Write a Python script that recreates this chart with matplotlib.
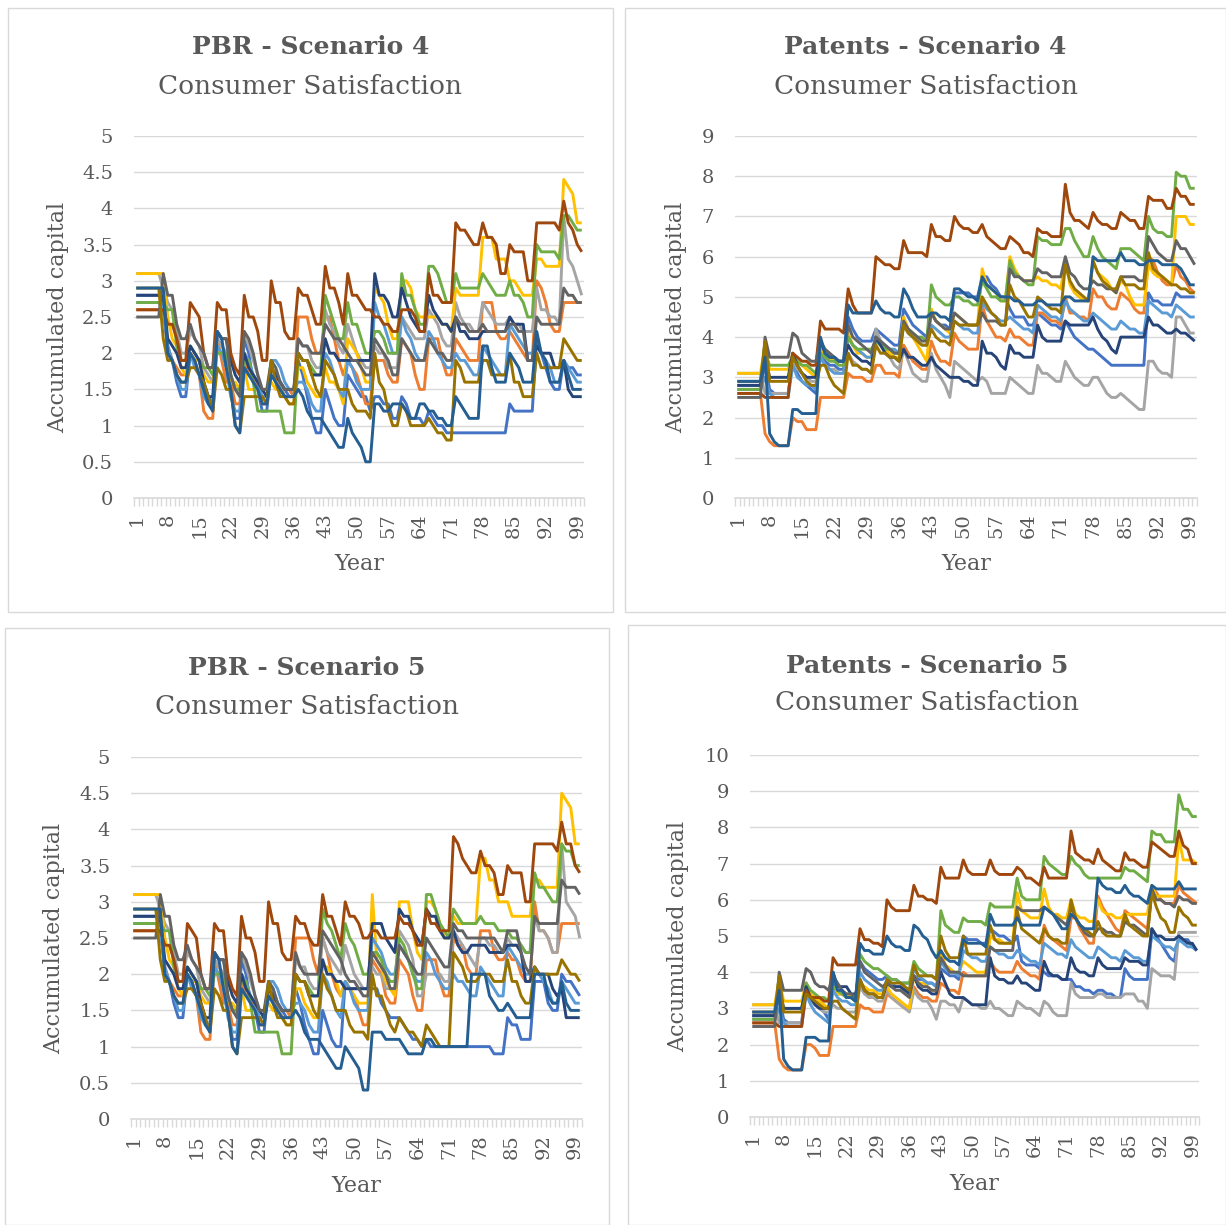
import numpy as np
import matplotlib
matplotlib.use("Agg")
import matplotlib.pyplot as plt
from matplotlib.patches import Rectangle

# Excel default line palette (series 1..11)
colors = ["#4472C4", "#ED7D31", "#A5A5A5", "#FFC000", "#5B9BD5", "#70AD47",
          "#264478", "#9E480E", "#636363", "#997300", "#255E91"]

years = list(range(1, 101))
year_labels = [str(y) if (y - 1) % 7 == 0 else "" for y in years]

# values per run, years 1..100 ("|" only groups the 6-year cycles for reading)
pbr4 = [
    "2.8 2.8 2.8 2.8 2.8 2.8 | 2.7 2.0 1.9 1.6 1.4 1.4 | 2.0 1.9 1.9 1.6 1.4 1.3 | 2.2 2.1 2.0 1.5 1.1 1.1 | 2.2 2.0 1.6 1.5 1.2 1.2 | 1.8 1.7 1.6 1.5 1.4 1.4 | 1.9 1.7 1.4 1.1 0.9 0.9 | 1.5 1.3 1.1 1.0 1.0 | 1.7 1.6 1.5 1.4 1.4 1.2 | 1.4 1.4 1.3 1.3 1.1 1.1 | 1.4 1.3 1.1 1.1 1.1 1.0 | 1.2 1.1 1.0 1.0 0.9 0.9 | 0.9 0.9 0.9 0.9 0.9 0.9 | 0.9 0.9 0.9 0.9 0.9 0.9 | 1.3 1.2 1.2 1.2 1.2 1.2 | 2.2 2.0 1.8 1.6 1.5 1.5 | 1.9 1.8 1.8 1.7 1.7",
    "2.6 2.6 2.6 2.6 2.6 2.6 | 2.6 2.1 1.9 1.8 1.7 1.7 | 2.0 1.9 1.7 1.2 1.1 1.1 | 2.2 1.9 1.6 1.6 1.3 1.3 | 1.9 1.7 1.7 1.5 1.3 1.3 | 1.8 1.7 1.5 1.5 1.5 1.4 | 2.5 2.5 2.5 2.2 2.0 2.0 | 2.5 2.5 2.2 1.9 1.7 | 1.9 1.8 1.7 1.5 1.3 1.3 | 1.9 1.9 1.9 1.7 1.6 1.6 | 2.2 2.1 2.0 1.7 1.5 1.5 | 2.2 2.2 2.2 1.9 1.7 1.7 | 2.2 2.1 2.0 1.9 1.9 1.9 | 2.7 2.7 2.7 2.3 2.2 2.2 | 2.3 2.2 2.1 2.0 1.9 1.9 | 3.0 2.9 2.7 2.4 2.3 2.3 | 2.7 2.7 2.7 2.7 2.7",
    "3.1 3.1 3.1 3.1 3.1 3.1 | 2.9 2.7 2.6 2.3 2.0 2.0 | 2.3 2.2 2.1 1.8 1.7 1.6 | 2.2 2.1 2.0 1.7 1.5 1.5 | 2.3 2.1 1.9 1.7 1.5 1.5 | 1.7 1.6 1.6 1.4 1.4 1.4 | 2.2 2.1 2.1 1.9 1.8 1.8 | 2.6 2.4 2.3 2.1 2.0 | 2.4 2.2 2.0 1.9 1.8 1.8 | 2.1 2.0 2.0 1.8 1.8 1.8 | 2.5 2.4 2.3 2.2 2.2 2.2 | 2.6 2.5 2.4 2.2 2.1 2.1 | 2.7 2.5 2.4 2.4 2.3 2.3 | 2.7 2.6 2.5 2.4 2.4 2.4 | 2.5 2.4 2.4 2.3 2.3 2.3 | 2.9 2.6 2.6 2.5 2.5 2.4 | 3.9 3.3 3.2 3.0 2.8",
    "3.1 3.1 3.1 3.1 3.1 3.1 | 3.1 2.5 2.2 2.1 1.8 1.7 | 2.0 1.9 1.9 1.7 1.6 1.6 | 2.1 2.0 1.8 1.6 1.6 1.5 | 1.8 1.5 1.5 1.5 1.5 1.5 | 1.6 1.5 1.5 1.4 1.3 1.3 | 1.8 1.8 1.6 1.5 1.4 1.4 | 1.8 1.6 1.6 1.5 1.3 | 2.2 2.1 2.0 1.8 1.6 1.6 | 2.9 2.8 2.7 2.4 2.2 2.2 | 3.0 3.0 2.9 2.6 2.5 2.5 | 2.5 2.5 2.5 2.4 2.4 2.3 | 2.9 2.8 2.8 2.8 2.8 2.8 | 3.6 3.6 3.6 3.3 3.3 3.3 | 3.0 3.0 2.9 2.8 2.8 2.8 | 3.3 3.3 3.2 3.2 3.2 3.2 | 4.4 4.3 4.2 3.8 3.8",
    "2.7 2.7 2.7 2.7 2.7 2.7 | 2.6 2.1 1.9 1.7 1.5 1.5 | 2.0 1.8 1.7 1.4 1.3 1.3 | 2.1 2.0 1.8 1.4 1.2 1.2 | 2.0 1.9 1.7 1.6 1.4 1.4 | 1.9 1.9 1.8 1.6 1.5 1.5 | 1.6 1.6 1.5 1.3 1.2 1.2 | 2.0 1.9 1.7 1.5 1.4 | 1.9 1.8 1.6 1.5 1.5 1.5 | 2.7 2.5 2.4 2.2 2.0 2.0 | 2.5 2.3 2.2 2.0 1.9 1.9 | 2.3 2.2 2.0 1.9 1.8 1.8 | 2.0 1.9 1.9 1.8 1.7 1.7 | 2.1 2.0 1.9 1.8 1.7 1.7 | 2.4 2.3 2.2 2.1 2.0 2.0 | 2.1 2.0 1.9 1.8 1.6 1.6 | 1.9 1.8 1.7 1.6 1.6",
    "2.7 2.7 2.7 2.7 2.7 2.7 | 2.7 2.6 2.6 2.1 1.9 1.9 | 2.1 2.0 1.9 1.8 1.8 1.7 | 2.0 2.0 2.0 1.7 1.5 1.5 | 1.9 1.9 1.6 1.2 1.2 1.2 | 1.2 1.2 1.2 0.9 0.9 0.9 | 2.0 1.9 1.9 1.8 1.7 1.7 | 2.8 2.6 2.4 2.2 2.2 | 2.7 2.4 2.4 2.2 2.0 2.0 | 2.3 2.3 2.2 2.0 2.0 2.0 | 3.1 2.8 2.8 2.6 2.4 2.4 | 3.2 3.2 3.1 2.9 2.7 2.7 | 3.1 2.9 2.9 2.9 2.9 2.9 | 3.1 3.0 2.9 2.8 2.8 2.8 | 3.0 2.8 2.8 2.7 2.5 2.5 | 3.5 3.4 3.4 3.4 3.4 3.3 | 3.9 3.9 3.8 3.7 3.7",
    "2.8 2.8 2.8 2.8 2.8 2.8 | 2.8 2.2 2.1 2.0 1.8 1.8 | 2.1 2.0 1.9 1.6 1.4 1.4 | 2.3 2.2 2.2 1.9 1.7 1.6 | 2.0 1.8 1.7 1.6 1.5 1.4 | 1.8 1.7 1.6 1.5 1.5 1.5 | 2.0 1.9 1.9 1.7 1.7 1.7 | 2.2 2.0 2.0 1.9 1.9 | 1.9 1.9 1.9 1.9 1.9 1.9 | 3.1 2.8 2.8 2.7 2.5 2.5 | 2.9 2.7 2.5 2.4 2.3 2.3 | 2.8 2.6 2.5 2.4 2.4 2.3 | 2.5 2.3 2.3 2.2 2.2 2.2 | 2.3 2.3 2.3 2.3 2.3 2.3 | 2.5 2.4 2.4 2.4 1.9 1.9 | 2.1 2.0 2.0 2.0 1.8 1.8 | 1.9 1.5 1.4 1.4 1.4",
    "2.6 2.6 2.6 2.6 2.6 2.6 | 2.6 2.4 2.4 2.2 1.9 1.9 | 2.7 2.6 2.5 2.0 1.8 1.8 | 2.7 2.6 2.6 2.0 1.8 1.7 | 2.8 2.5 2.5 2.3 1.9 1.9 | 3.0 2.7 2.7 2.3 2.2 2.2 | 2.9 2.8 2.8 2.6 2.4 2.4 | 3.2 2.9 2.9 2.7 2.4 | 3.1 2.8 2.8 2.7 2.6 2.6 | 2.5 2.5 2.4 2.4 2.3 2.3 | 2.6 2.6 2.6 2.5 2.3 2.3 | 3.1 2.8 2.8 2.7 2.7 2.7 | 3.8 3.7 3.7 3.6 3.5 3.5 | 3.8 3.6 3.6 3.5 3.1 3.1 | 3.5 3.4 3.4 3.4 3.0 3.0 | 3.8 3.8 3.8 3.8 3.8 3.7 | 4.1 3.8 3.7 3.5 3.4",
    "2.5 2.5 2.5 2.5 2.5 2.5 | 3.1 2.8 2.8 2.4 2.2 2.2 | 2.4 2.2 2.1 2.0 1.8 1.8 | 2.3 2.2 2.2 1.7 1.5 1.4 | 2.3 2.2 2.0 1.7 1.5 1.5 | 1.9 1.8 1.6 1.5 1.5 1.5 | 2.2 2.1 2.1 2.0 2.0 2.0 | 2.4 2.3 2.2 2.2 2.1 | 2.0 1.9 1.9 1.8 1.7 1.7 | 2.2 2.1 2.0 1.9 1.7 1.7 | 2.2 2.1 2.0 1.9 1.9 1.9 | 2.2 2.1 2.0 2.0 1.9 1.9 | 2.5 2.4 2.4 2.3 2.3 2.3 | 2.4 2.3 2.3 2.3 2.3 2.3 | 2.4 2.4 2.3 2.3 1.9 1.9 | 2.5 2.4 2.4 2.4 2.4 2.4 | 2.9 2.8 2.8 2.7 2.7",
    "2.9 2.9 2.9 2.9 2.9 2.9 | 2.2 1.9 1.9 1.7 1.6 1.6 | 1.8 1.8 1.7 1.6 1.4 1.2 | 1.8 1.7 1.5 1.5 1.0 0.9 | 1.4 1.4 1.4 1.4 1.4 1.3 | 1.9 1.6 1.4 1.4 1.3 1.3 | 2.0 1.9 1.9 1.7 1.5 1.4 | 1.9 1.8 1.7 1.5 1.5 | 1.5 1.3 1.2 1.2 1.2 1.1 | 2.0 1.6 1.5 1.2 1.0 1.0 | 1.3 1.2 1.0 1.0 1.0 1.0 | 1.1 1.0 0.9 0.9 0.8 0.8 | 1.9 1.8 1.6 1.6 1.6 1.6 | 1.9 1.9 1.7 1.7 1.7 1.7 | 2.0 1.6 1.6 1.4 1.4 1.4 | 2.0 1.8 1.8 1.8 1.8 1.8 | 2.2 2.1 2.0 1.9 1.9",
    "2.9 2.9 2.9 2.9 2.9 2.9 | 2.9 2.0 1.9 1.7 1.6 1.6 | 2.0 1.9 1.7 1.5 1.3 1.2 | 2.3 2.2 1.8 1.5 1.0 0.9 | 1.8 1.7 1.6 1.5 1.3 1.3 | 1.7 1.6 1.5 1.4 1.4 1.4 | 1.5 1.4 1.2 1.1 1.1 1.1 | 1.0 0.9 0.8 0.7 0.7 | 1.1 0.9 0.8 0.7 0.5 0.5 | 1.3 1.3 1.2 1.2 1.3 1.3 | 1.3 1.2 1.1 1.1 1.3 1.3 | 1.2 1.2 1.1 1.1 1.0 1.0 | 1.4 1.3 1.2 1.1 1.1 1.1 | 2.1 2.1 1.8 1.6 1.6 1.6 | 2.0 1.9 1.8 1.6 1.6 1.6 | 2.3 2.0 1.9 1.6 1.6 1.6 | 1.9 1.7 1.5 1.5 1.5",
]

patents4 = [
    "2.8 2.8 2.8 2.8 2.8 2.8 | 3.3 2.7 2.6 2.6 2.6 2.6 | 3.4 3.1 2.9 2.8 2.7 2.6 | 3.6 3.4 3.3 3.3 3.2 3.2 | 4.5 4.2 4.0 3.9 3.9 3.9 | 4.2 4.1 4.0 3.9 3.8 3.8 | 4.7 4.5 4.3 4.2 4.1 4.0 | 4.6 4.4 4.3 4.3 4.2 | 5.1 5.1 5.1 5.1 5.0 5.0 | 5.5 5.5 5.3 5.2 5.0 5.0 | 4.7 4.5 4.5 4.5 4.3 4.3 | 4.6 4.5 4.4 4.3 4.3 4.2 | 4.4 4.2 4.0 3.9 3.8 3.7 | 3.7 3.6 3.5 3.4 3.3 3.3 | 3.3 3.3 3.3 3.3 3.3 3.3 | 5.1 4.9 4.9 4.8 4.8 4.8 | 5.1 5.0 5.0 5.0 5.0",
    "2.6 2.6 2.6 2.6 2.6 2.6 | 1.6 1.4 1.3 1.3 1.3 1.3 | 2.0 1.9 1.9 1.7 1.7 1.7 | 2.5 2.5 2.5 2.5 2.5 2.5 | 3.1 3.0 3.0 3.0 2.9 2.9 | 3.3 3.3 3.1 3.1 3.1 3.0 | 3.8 3.6 3.4 3.3 3.2 3.2 | 3.9 3.6 3.4 3.4 3.3 | 4.1 3.9 3.8 3.7 3.7 3.7 | 4.8 4.4 4.2 4.0 4.0 3.9 | 4.2 4.0 4.0 3.9 3.8 3.8 | 4.6 4.6 4.5 4.4 4.4 4.3 | 5.0 4.6 4.6 4.5 4.5 4.4 | 5.2 5.0 5.0 4.8 4.7 4.7 | 5.1 5.0 4.9 4.7 4.6 4.6 | 6.0 5.9 5.6 5.4 5.3 5.3 | 5.8 5.5 5.4 5.2 5.1",
    "3.1 3.1 3.1 3.1 3.1 3.1 | 2.6 2.6 2.6 2.6 2.6 2.6 | 3.4 3.2 3.1 3.0 2.9 2.9 | 3.5 3.3 3.2 3.2 3.1 3.1 | 3.6 3.4 3.3 3.2 3.2 3.1 | 4.2 3.9 3.7 3.5 3.3 3.2 | 3.7 3.4 3.1 3.0 2.9 2.9 | 3.6 3.2 3.0 2.8 2.5 | 3.4 3.3 3.2 3.1 3.0 2.9 | 3.0 2.9 2.6 2.6 2.6 2.6 | 3.0 2.9 2.8 2.7 2.6 2.6 | 3.3 3.1 3.1 3.0 2.9 2.9 | 3.4 3.2 3.0 2.9 2.8 2.8 | 3.0 3.0 2.8 2.6 2.5 2.5 | 2.6 2.5 2.4 2.3 2.2 2.2 | 3.4 3.4 3.2 3.1 3.1 3.0 | 4.5 4.5 4.3 4.1 4.1",
    "3.1 3.1 3.1 3.1 3.1 3.1 | 3.8 3.2 3.2 3.2 3.2 3.2 | 3.6 3.4 3.3 3.2 3.1 3.0 | 3.7 3.5 3.5 3.4 3.4 3.4 | 4.1 3.8 3.6 3.6 3.5 3.5 | 4.0 3.8 3.7 3.6 3.5 3.5 | 4.5 4.2 4.0 3.8 3.6 3.4 | 4.7 4.4 4.3 4.2 4.1 | 4.6 4.5 4.4 4.3 4.3 4.3 | 5.7 5.3 5.2 5.1 4.9 4.9 | 6.0 5.7 5.5 5.4 5.4 5.4 | 5.5 5.4 5.4 5.3 5.3 5.2 | 5.9 5.3 5.1 5.0 4.9 4.9 | 5.9 5.6 5.5 5.4 5.2 5.1 | 5.4 5.3 5.0 4.8 4.8 4.8 | 5.8 5.6 5.5 5.5 5.4 5.3 | 7.0 7.0 7.0 6.8 6.8",
    "2.7 2.7 2.7 2.7 2.7 2.7 | 3.0 2.6 2.5 2.5 2.5 2.5 | 3.3 3.0 2.9 2.8 2.8 2.7 | 3.5 3.3 3.2 3.1 3.1 3.1 | 4.0 3.8 3.7 3.6 3.5 3.5 | 4.0 3.9 3.8 3.7 3.7 3.6 | 4.3 4.1 4.0 3.9 3.8 3.8 | 4.3 4.2 4.1 4.0 4.0 | 4.4 4.3 4.2 4.2 4.1 4.1 | 4.9 4.7 4.6 4.5 4.4 4.4 | 4.5 4.4 4.3 4.2 4.2 4.1 | 4.8 4.7 4.6 4.5 4.5 4.4 | 4.9 4.7 4.6 4.5 4.4 4.4 | 4.6 4.5 4.4 4.3 4.2 4.2 | 4.4 4.3 4.2 4.2 4.1 4.1 | 4.9 4.8 4.7 4.6 4.6 4.5 | 4.8 4.7 4.6 4.5 4.5",
    "2.7 2.7 2.7 2.7 2.7 2.7 | 3.6 3.3 3.3 3.3 3.3 3.3 | 3.5 3.4 3.3 3.3 3.2 3.1 | 3.6 3.5 3.4 3.4 3.3 3.3 | 4.0 3.8 3.7 3.7 3.7 3.7 | 3.9 3.8 3.7 3.7 3.6 3.6 | 4.3 4.2 4.1 4.0 4.0 3.9 | 5.3 5.0 4.9 4.8 4.8 | 5.0 5.0 4.9 4.9 4.8 4.8 | 5.4 5.2 5.0 5.0 4.9 4.9 | 5.9 5.6 5.5 5.4 5.3 5.3 | 6.5 6.4 6.4 6.3 6.3 6.3 | 6.7 6.7 6.4 6.2 6.0 6.0 | 6.5 6.2 6.0 5.9 5.8 5.7 | 6.2 6.2 6.2 6.1 6.0 5.9 | 7.0 6.7 6.6 6.6 6.5 6.5 | 8.1 8.0 8.0 7.7 7.7",
    "2.8 2.8 2.8 2.8 2.8 2.8 | 3.5 3.0 3.0 3.0 3.0 3.0 | 3.6 3.3 3.1 3.0 3.0 3.0 | 3.9 3.6 3.5 3.5 3.4 3.4 | 3.8 3.6 3.5 3.4 3.4 3.3 | 4.0 3.8 3.6 3.5 3.5 3.4 | 3.7 3.5 3.5 3.4 3.3 3.3 | 3.5 3.3 3.2 3.1 3.0 | 3.0 3.0 2.9 2.9 2.8 2.8 | 3.9 3.6 3.6 3.5 3.3 3.2 | 3.8 3.6 3.6 3.5 3.5 3.5 | 4.3 4.0 3.9 3.9 3.9 3.9 | 4.4 4.3 4.3 4.3 4.3 4.3 | 4.5 4.2 4.0 3.9 3.7 3.6 | 4.0 4.0 4.0 4.0 4.0 4.0 | 4.5 4.3 4.3 4.2 4.1 4.1 | 4.2 4.1 4.1 4.0 3.9",
    "2.6 2.6 2.6 2.6 2.6 2.6 | 2.5 2.5 2.5 2.5 2.5 2.5 | 3.6 3.5 3.4 3.4 3.3 3.3 | 4.4 4.2 4.2 4.2 4.2 4.1 | 5.2 4.8 4.6 4.6 4.6 4.6 | 6.0 5.9 5.8 5.8 5.7 5.7 | 6.4 6.1 6.1 6.1 6.1 6.0 | 6.8 6.5 6.5 6.4 6.4 | 7.0 6.8 6.7 6.7 6.6 6.6 | 6.8 6.5 6.4 6.3 6.2 6.2 | 6.5 6.4 6.3 6.1 6.1 6.0 | 6.7 6.6 6.6 6.5 6.5 6.5 | 7.8 7.1 6.9 6.9 6.8 6.7 | 7.1 6.9 6.8 6.8 6.7 6.7 | 7.1 7.0 6.9 6.9 6.7 6.7 | 7.5 7.4 7.4 7.4 7.2 7.2 | 7.7 7.5 7.5 7.3 7.3",
    "2.5 2.5 2.5 2.5 2.5 2.5 | 4.0 3.5 3.5 3.5 3.5 3.5 | 4.1 4.0 3.6 3.5 3.4 3.4 | 3.9 3.7 3.6 3.5 3.4 3.4 | 4.3 4.0 3.9 3.8 3.7 3.6 | 4.0 3.9 3.8 3.7 3.6 3.6 | 4.4 4.2 4.1 4.0 3.9 3.9 | 4.6 4.4 4.3 4.2 4.2 | 4.6 4.5 4.4 4.3 4.3 4.3 | 4.6 4.4 4.4 4.4 4.3 4.3 | 5.7 5.5 5.5 5.4 5.4 5.4 | 5.7 5.6 5.6 5.5 5.5 5.5 | 6.0 5.6 5.5 5.3 5.2 5.2 | 5.4 5.3 5.3 5.2 5.2 5.1 | 5.5 5.5 5.5 5.5 5.4 5.4 | 6.5 6.3 6.1 6.0 5.9 5.9 | 6.4 6.2 6.2 6.0 5.8",
    "2.9 2.9 2.9 2.9 2.9 2.9 | 3.9 2.9 2.9 2.9 2.9 2.9 | 3.5 3.3 3.1 2.9 2.8 2.8 | 3.3 3.3 3.0 2.8 2.7 2.6 | 3.6 3.3 3.3 3.2 3.2 3.1 | 3.8 3.6 3.6 3.5 3.5 3.4 | 4.3 4.1 4.0 3.9 3.8 3.8 | 4.2 4.0 3.9 3.9 3.8 | 4.4 4.3 4.3 4.3 4.3 4.3 | 5.0 4.8 4.6 4.5 4.3 4.3 | 5.3 5.0 4.9 4.7 4.5 4.5 | 5.0 4.9 4.8 4.7 4.7 4.6 | 5.8 5.4 5.2 5.1 5.0 4.9 | 5.9 5.6 5.4 5.3 5.2 5.2 | 5.5 5.3 5.3 5.3 5.2 5.2 | 6.1 5.7 5.6 5.5 5.4 5.3 | 5.3 5.2 5.2 5.1 5.1",
    "2.9 2.9 2.9 2.9 2.9 2.9 | 3.5 1.6 1.4 1.3 1.3 1.3 | 2.2 2.2 2.1 2.1 2.1 2.1 | 4.0 3.6 3.5 3.5 3.4 3.4 | 4.8 4.6 4.6 4.6 4.6 4.6 | 4.9 4.7 4.6 4.6 4.5 4.5 | 5.2 5.0 4.7 4.5 4.5 4.5 | 4.6 4.6 4.5 4.5 4.4 | 5.2 5.2 5.1 5.0 5.0 4.9 | 5.5 5.3 5.2 5.1 5.0 5.0 | 5.0 4.9 4.9 4.8 4.8 4.8 | 4.9 4.9 4.8 4.8 4.8 4.8 | 5.0 5.0 4.9 4.9 4.9 4.9 | 6.0 5.9 5.9 5.9 5.9 5.9 | 6.1 5.9 5.9 5.9 5.8 5.8 | 5.9 5.9 5.9 5.8 5.8 5.8 | 5.8 5.7 5.5 5.3 5.3",
]

pbr5 = [
    "2.8 2.8 2.8 2.8 2.8 2.8 | 2.7 2.0 1.9 1.6 1.4 1.4 | 2.0 1.9 1.9 1.6 1.3 1.3 | 2.2 2.1 2.0 1.5 1.1 1.1 | 2.2 2.0 1.6 1.5 1.2 1.2 | 1.9 1.8 1.6 1.5 1.4 1.4 | 1.8 1.6 1.3 1.1 0.9 0.9 | 1.5 1.3 1.1 1.0 1.0 | 1.9 1.8 1.8 1.8 1.8 1.8 | 1.8 1.8 1.6 1.5 1.4 1.4 | 1.4 1.3 1.2 1.1 1.1 1.0 | 1.1 1.0 1.0 1.0 1.0 1.0 | 1.0 1.0 1.0 1.0 1.0 1.0 | 1.0 1.0 1.0 0.9 0.9 0.9 | 1.4 1.3 1.3 1.1 1.1 1.1 | 1.9 1.9 1.9 1.6 1.5 1.5 | 2.0 1.9 1.9 1.8 1.7",
    "2.6 2.6 2.6 2.6 2.6 2.6 | 2.6 2.1 1.9 1.8 1.7 1.7 | 2.0 1.9 1.7 1.2 1.1 1.1 | 2.2 1.9 1.6 1.6 1.3 1.3 | 1.9 1.7 1.7 1.5 1.3 1.3 | 1.8 1.7 1.5 1.5 1.5 1.4 | 2.5 2.5 2.5 2.5 2.2 2.0 | 2.5 2.3 2.0 1.8 1.7 | 1.9 1.8 1.7 1.5 1.3 1.3 | 2.2 2.1 2.0 1.7 1.6 1.6 | 2.2 2.1 2.0 1.7 1.5 1.5 | 2.2 2.2 2.2 1.9 1.7 1.7 | 2.5 2.4 2.4 2.1 2.0 2.0 | 2.6 2.6 2.6 2.3 2.2 2.2 | 2.3 2.2 2.2 2.0 1.9 1.9 | 3.0 2.6 2.6 2.5 2.3 2.3 | 2.7 2.7 2.7 2.7 2.7",
    "3.1 3.1 3.1 3.1 3.1 3.1 | 2.9 2.7 2.6 2.3 2.0 2.0 | 2.3 2.2 2.1 1.8 1.7 1.6 | 2.2 2.1 2.0 1.7 1.5 1.5 | 2.3 2.1 1.9 1.7 1.5 1.5 | 1.7 1.6 1.6 1.4 1.4 1.4 | 2.2 2.1 2.1 1.9 1.8 1.8 | 2.5 2.3 2.2 2.1 2.0 | 2.4 2.2 2.0 1.9 1.8 1.8 | 2.1 2.0 2.0 1.8 1.8 1.8 | 2.6 2.5 2.4 2.2 1.7 1.7 | 2.0 2.0 2.0 2.0 1.9 1.9 | 2.6 2.5 2.4 2.3 2.2 2.1 | 2.5 2.5 2.4 2.4 2.3 2.3 | 2.5 2.4 2.4 2.4 2.3 2.3 | 2.8 2.6 2.6 2.5 2.3 2.3 | 3.8 3.0 2.9 2.8 2.5",
    "3.1 3.1 3.1 3.1 3.1 3.1 | 3.1 2.5 2.2 2.1 1.8 1.7 | 2.0 1.9 1.9 1.7 1.6 1.6 | 2.1 2.0 1.8 1.6 1.6 1.5 | 1.8 1.5 1.5 1.5 1.5 1.5 | 1.6 1.5 1.5 1.4 1.3 1.3 | 1.8 1.8 1.6 1.5 1.4 1.4 | 2.1 2.1 2.0 1.9 1.7 | 1.9 1.8 1.7 1.6 1.6 1.6 | 3.1 2.2 2.1 1.9 1.8 1.7 | 3.0 3.0 3.0 2.6 2.3 2.2 | 3.0 3.0 2.9 2.7 2.5 2.5 | 2.8 2.7 2.7 2.7 2.7 2.7 | 3.6 3.6 3.3 3.3 3.0 3.0 | 3.0 2.8 2.8 2.8 2.8 2.8 | 3.3 3.3 3.2 3.2 3.2 3.2 | 4.5 4.4 4.3 3.8 3.8",
    "2.7 2.7 2.7 2.7 2.7 2.7 | 2.6 2.1 1.9 1.7 1.5 1.5 | 2.0 1.8 1.7 1.4 1.3 1.3 | 2.1 2.0 1.8 1.4 1.2 1.2 | 2.0 1.9 1.7 1.6 1.4 1.4 | 1.9 1.9 1.8 1.6 1.5 1.5 | 1.6 1.6 1.5 1.3 1.2 1.2 | 2.0 1.9 1.7 1.5 1.4 | 1.9 1.8 1.6 1.5 1.5 1.5 | 2.5 2.4 2.3 2.1 2.0 2.0 | 2.4 2.3 2.2 2.0 1.9 1.9 | 2.3 2.2 2.0 1.9 1.8 1.8 | 2.0 1.9 1.9 1.8 1.7 1.7 | 2.1 2.0 1.9 1.8 1.7 1.7 | 2.4 2.3 2.2 2.1 2.0 2.0 | 2.1 2.0 1.9 1.8 1.6 1.6 | 1.9 1.8 1.7 1.6 1.6",
    "2.7 2.7 2.7 2.7 2.7 2.7 | 2.7 2.6 2.6 2.1 1.9 1.9 | 2.1 2.0 1.9 1.8 1.8 1.7 | 2.0 2.0 2.0 1.7 1.5 1.5 | 1.9 1.9 1.6 1.2 1.2 1.2 | 1.2 1.2 1.2 0.9 0.9 0.9 | 2.0 1.9 1.9 1.8 1.7 1.7 | 2.9 2.7 2.6 2.4 2.2 | 2.7 2.5 2.4 2.2 2.0 2.0 | 2.3 2.3 2.2 2.0 1.9 1.9 | 2.5 2.4 2.2 2.0 1.8 1.8 | 3.1 3.1 2.9 2.7 2.6 2.5 | 2.9 2.8 2.7 2.7 2.7 2.7 | 2.8 2.7 2.7 2.7 2.6 2.6 | 2.6 2.5 2.5 2.4 2.3 2.3 | 3.4 3.2 3.2 3.1 3.0 3.0 | 3.8 3.7 3.7 3.5 3.5",
    "2.8 2.8 2.8 2.8 2.8 2.8 | 2.8 2.2 2.1 2.0 1.8 1.8 | 2.1 2.0 1.9 1.6 1.4 1.4 | 2.3 2.2 2.2 1.9 1.7 1.6 | 2.0 1.8 1.7 1.6 1.5 1.4 | 1.8 1.7 1.6 1.5 1.5 1.5 | 2.0 1.9 1.9 1.7 1.7 1.7 | 2.2 2.0 2.0 1.9 1.9 | 1.8 1.8 1.8 1.8 1.8 1.8 | 2.7 2.7 2.7 2.5 2.4 2.3 | 2.9 2.8 2.8 2.6 2.5 2.4 | 2.9 2.8 2.8 2.6 2.5 2.5 | 2.6 2.4 2.3 2.3 2.4 2.4 | 2.4 2.4 2.3 2.3 2.3 2.3 | 2.4 2.4 2.4 2.3 1.9 1.9 | 2.1 2.0 2.0 2.0 1.8 1.7 | 1.8 1.4 1.4 1.4 1.4",
    "2.6 2.6 2.6 2.6 2.6 2.6 | 2.6 2.4 2.4 2.2 1.9 1.9 | 2.7 2.6 2.5 2.0 1.8 1.8 | 2.7 2.6 2.6 2.0 1.8 1.7 | 2.8 2.5 2.5 2.3 1.9 1.9 | 3.0 2.7 2.7 2.3 2.2 2.2 | 2.8 2.7 2.7 2.5 2.4 2.4 | 3.1 2.8 2.8 2.6 2.4 | 3.0 2.8 2.8 2.7 2.5 2.5 | 2.6 2.6 2.5 2.5 2.5 2.5 | 2.8 2.7 2.7 2.6 2.4 2.4 | 2.9 2.7 2.7 2.6 2.6 2.6 | 3.9 3.8 3.6 3.5 3.4 3.4 | 3.7 3.5 3.5 3.4 3.1 3.1 | 3.5 3.4 3.4 3.4 3.0 3.0 | 3.8 3.8 3.8 3.8 3.8 3.7 | 4.1 3.8 3.8 3.5 3.4",
    "2.5 2.5 2.5 2.5 2.5 2.5 | 3.1 2.8 2.8 2.4 2.2 2.2 | 2.4 2.2 2.1 2.0 1.8 1.8 | 2.3 2.2 2.2 1.7 1.5 1.4 | 2.3 2.2 2.0 1.7 1.5 1.5 | 1.9 1.8 1.6 1.5 1.5 1.5 | 2.3 2.1 2.0 2.0 2.0 2.0 | 2.6 2.5 2.4 2.3 2.2 | 2.0 1.9 1.9 1.8 1.7 1.7 | 2.3 2.2 2.1 2.0 1.8 1.8 | 2.4 2.3 2.2 2.1 2.0 2.0 | 2.5 2.4 2.3 2.2 2.1 2.1 | 2.7 2.6 2.6 2.5 2.5 2.5 | 2.5 2.5 2.5 2.5 2.4 2.3 | 2.6 2.6 2.6 2.3 2.1 2.0 | 2.8 2.7 2.7 2.7 2.7 2.7 | 3.3 3.2 3.2 3.2 3.1",
    "2.9 2.9 2.9 2.9 2.9 2.9 | 2.2 1.9 1.9 1.7 1.6 1.6 | 1.8 1.8 1.7 1.6 1.4 1.2 | 1.8 1.7 1.5 1.5 1.0 0.9 | 1.4 1.4 1.4 1.4 1.4 1.3 | 1.9 1.6 1.4 1.4 1.3 1.3 | 2.0 1.9 1.9 1.7 1.5 1.4 | 2.0 1.8 1.7 1.5 1.5 | 1.5 1.3 1.2 1.2 1.2 1.1 | 2.0 1.7 1.7 1.5 1.3 1.2 | 1.4 1.3 1.2 1.2 1.1 1.0 | 1.3 1.2 1.1 1.0 1.0 1.0 | 2.3 2.2 2.1 1.9 1.9 1.9 | 2.0 2.0 2.0 1.9 1.9 1.9 | 2.2 1.9 1.9 1.7 1.6 1.6 | 2.1 2.0 2.0 2.0 2.0 2.0 | 2.2 2.1 2.0 2.0 1.9",
    "2.9 2.9 2.9 2.9 2.9 2.9 | 2.9 2.0 1.9 1.7 1.6 1.6 | 2.0 1.9 1.7 1.5 1.3 1.2 | 2.3 2.2 1.8 1.5 1.0 0.9 | 1.8 1.7 1.6 1.5 1.3 1.3 | 1.7 1.6 1.5 1.4 1.4 1.4 | 1.5 1.4 1.2 1.1 1.1 1.1 | 1.0 0.9 0.8 0.7 0.7 | 1.0 0.9 0.8 0.7 0.4 0.4 | 1.2 1.2 1.2 1.1 1.1 1.1 | 1.1 1.0 0.9 0.9 0.9 0.9 | 1.1 1.1 1.0 1.0 1.0 1.0 | 1.0 1.0 1.0 1.0 2.0 2.0 | 2.0 2.0 1.7 1.6 1.5 1.5 | 1.6 1.5 1.4 1.4 1.4 1.4 | 2.0 2.0 2.0 1.7 1.6 1.6 | 1.9 1.6 1.5 1.5 1.5",
]

patents5 = [
    "2.8 2.8 2.8 2.8 2.8 2.8 | 3.3 2.7 2.6 2.6 2.6 2.6 | 3.7 3.3 3.1 3.0 2.9 2.7 | 3.7 3.4 3.4 3.3 3.3 3.2 | 4.3 4.1 4.0 3.9 3.8 3.8 | 3.9 3.8 3.8 3.7 3.7 3.7 | 3.9 3.8 3.8 3.7 3.7 3.6 | 4.1 4.0 3.9 3.9 3.8 | 5.0 4.9 4.9 4.9 4.8 4.8 | 5.2 5.1 5.0 5.0 4.9 4.8 | 5.0 4.3 4.2 4.2 4.2 4.1 | 4.0 3.9 3.9 3.9 3.8 3.8 | 3.8 3.6 3.6 3.5 3.5 3.4 | 3.5 3.5 3.4 3.4 3.3 3.3 | 4.1 3.9 3.8 3.8 3.8 3.8 | 5.2 5.0 4.8 4.6 4.4 4.3 | 5.0 4.9 4.9 4.7 4.6",
    "2.6 2.6 2.6 2.6 2.6 2.6 | 1.6 1.4 1.3 1.3 1.3 1.3 | 2.0 2.0 1.9 1.7 1.7 1.7 | 2.5 2.5 2.5 2.5 2.5 2.5 | 3.1 3.0 3.0 2.9 2.9 2.9 | 3.4 3.3 3.2 3.1 3.0 3.0 | 3.6 3.4 3.3 3.3 3.2 3.2 | 3.7 3.6 3.5 3.5 3.4 | 4.0 3.9 3.9 3.9 3.9 3.9 | 4.3 4.1 4.0 4.0 4.0 4.0 | 4.3 4.1 4.0 3.9 3.9 3.8 | 5.3 5.0 4.9 4.8 4.7 4.6 | 5.5 5.5 5.2 5.0 4.8 4.8 | 6.1 5.8 5.6 5.4 5.2 5.1 | 5.7 5.6 5.5 5.4 5.3 5.2 | 6.3 6.2 6.0 5.9 5.9 5.9 | 6.4 6.2 6.1 6.0 5.9",
    "3.1 3.1 3.1 3.1 3.1 3.1 | 2.6 2.6 2.6 2.6 2.6 2.6 | 3.4 3.2 3.1 3.0 2.9 2.9 | 3.1 3.0 3.0 2.9 2.9 2.9 | 3.6 3.4 3.3 3.3 3.2 3.2 | 3.5 3.3 3.2 3.1 3.0 2.9 | 3.5 3.3 3.2 3.2 3.0 2.7 | 3.2 3.2 3.1 3.1 2.9 | 3.3 3.2 3.1 3.1 3.0 3.0 | 3.2 3.0 3.0 2.9 2.8 2.8 | 3.2 3.1 3.0 3.0 2.9 2.8 | 3.2 3.1 2.9 2.8 2.8 2.8 | 3.7 3.4 3.3 3.3 3.3 3.3 | 3.4 3.4 3.3 3.3 3.3 3.3 | 3.4 3.4 3.4 3.2 3.2 3.0 | 4.1 4.0 3.9 3.9 3.9 3.8 | 5.1 5.1 5.1 5.1 5.1",
    "3.1 3.1 3.1 3.1 3.1 3.1 | 3.8 3.2 3.2 3.2 3.2 3.2 | 3.7 3.4 3.3 3.2 3.1 3.0 | 3.6 3.4 3.4 3.4 3.3 3.3 | 3.7 3.6 3.5 3.5 3.4 3.4 | 3.6 3.4 3.3 3.2 3.1 3.0 | 3.9 3.7 3.7 3.6 3.5 3.5 | 4.6 4.2 4.1 4.0 4.0 | 4.3 4.2 4.1 4.0 4.0 4.0 | 5.0 4.9 4.9 4.8 4.8 4.8 | 6.2 5.7 5.6 5.5 5.5 5.5 | 6.3 5.8 5.6 5.6 5.5 5.5 | 6.0 5.6 5.5 5.5 5.4 5.4 | 6.0 5.7 5.6 5.6 5.5 5.5 | 5.6 5.6 5.6 5.6 5.6 5.6 | 6.4 6.1 6.1 6.1 6.1 6.1 | 7.7 7.1 7.1 7.1 7.0",
    "2.7 2.7 2.7 2.7 2.7 2.7 | 3.0 2.6 2.5 2.5 2.5 2.5 | 3.4 3.1 2.9 2.8 2.7 2.6 | 3.5 3.3 3.2 3.2 3.1 3.1 | 4.0 3.8 3.7 3.6 3.5 3.5 | 3.8 3.7 3.6 3.6 3.5 3.5 | 4.1 3.9 3.8 3.7 3.7 3.6 | 4.3 4.1 4.0 4.0 3.9 | 4.6 4.5 4.4 4.4 4.3 4.3 | 4.7 4.6 4.5 4.5 4.4 4.4 | 4.6 4.5 4.4 4.3 4.3 4.2 | 4.8 4.7 4.6 4.5 4.5 4.4 | 4.9 4.7 4.6 4.5 4.4 4.4 | 4.7 4.6 4.5 4.4 4.4 4.3 | 4.6 4.5 4.4 4.4 4.3 4.3 | 5.0 4.9 4.8 4.7 4.7 4.6 | 4.9 4.8 4.7 4.7 4.6",
    "2.7 2.7 2.7 2.7 2.7 2.7 | 3.6 3.0 3.0 3.0 3.0 3.0 | 3.7 3.5 3.4 3.3 3.3 3.2 | 3.6 3.5 3.4 3.3 3.3 3.2 | 4.5 4.3 4.2 4.1 4.1 4.0 | 3.9 3.8 3.8 3.7 3.7 3.7 | 4.3 4.1 4.0 3.9 3.9 3.8 | 5.7 5.3 5.2 5.1 5.1 | 5.5 5.4 5.4 5.4 5.4 5.3 | 5.9 5.8 5.8 5.8 5.8 5.8 | 6.6 6.1 6.0 6.0 6.0 6.0 | 7.2 7.0 6.9 6.8 6.7 6.7 | 7.2 7.0 6.9 6.7 6.6 6.6 | 6.6 6.6 6.6 6.6 6.6 6.6 | 6.9 6.8 6.8 6.7 6.6 6.5 | 7.9 7.8 7.8 7.6 7.6 7.6 | 8.9 8.5 8.5 8.3 8.3",
    "2.8 2.8 2.8 2.8 2.8 2.8 | 3.5 3.0 3.0 3.0 3.0 3.0 | 3.6 3.3 3.1 3.0 3.0 3.0 | 4.0 3.6 3.6 3.6 3.4 3.4 | 3.8 3.5 3.4 3.4 3.3 3.3 | 3.7 3.6 3.6 3.6 3.5 3.4 | 3.9 3.6 3.5 3.5 3.4 3.4 | 4.0 3.7 3.4 3.3 3.3 | 3.3 3.2 3.1 3.1 3.1 3.1 | 4.4 3.9 3.8 3.8 3.7 3.7 | 3.9 3.7 3.7 3.6 3.5 3.5 | 4.3 4.0 3.9 3.9 3.8 3.8 | 4.4 4.1 4.0 4.0 3.9 3.9 | 4.4 4.2 4.1 4.1 4.1 4.1 | 4.4 4.3 4.3 4.3 4.2 4.2 | 5.2 5.0 5.0 4.9 4.9 4.9 | 5.0 4.9 4.8 4.8 4.6",
    "2.6 2.6 2.6 2.6 2.6 2.6 | 2.5 2.5 2.5 2.5 2.5 2.5 | 3.5 3.3 3.3 3.3 3.2 3.2 | 4.4 4.2 4.2 4.2 4.2 4.2 | 5.2 4.9 4.9 4.8 4.8 4.7 | 6.0 5.8 5.7 5.7 5.7 5.7 | 6.4 6.1 6.1 6.0 6.0 5.9 | 6.9 6.6 6.6 6.6 6.6 | 7.1 6.8 6.7 6.7 6.7 6.7 | 7.1 6.8 6.7 6.7 6.7 6.7 | 6.9 6.8 6.6 6.6 6.5 6.4 | 6.9 6.6 6.6 6.6 6.6 6.6 | 7.9 7.3 7.2 7.1 7.1 7.0 | 7.4 7.1 7.0 6.9 6.8 6.8 | 7.3 7.1 7.1 7.0 6.9 6.9 | 7.6 7.5 7.4 7.3 7.2 7.2 | 7.9 7.5 7.4 7.0 7.0",
    "2.5 2.5 2.5 2.5 2.5 2.5 | 4.0 3.5 3.5 3.5 3.5 3.5 | 4.1 4.0 3.7 3.6 3.6 3.5 | 3.9 3.7 3.5 3.4 3.4 3.3 | 4.3 4.0 3.9 3.8 3.7 3.6 | 3.7 3.6 3.5 3.5 3.4 3.3 | 3.9 3.7 3.6 3.6 3.5 3.5 | 4.4 4.2 4.0 4.0 4.0 | 3.9 3.9 3.9 3.9 3.9 3.9 | 4.7 4.6 4.6 4.6 4.6 4.6 | 5.8 5.7 5.7 5.7 5.7 5.7 | 5.8 5.7 5.6 5.5 5.4 5.3 | 5.8 5.5 5.3 5.1 5.0 5.0 | 5.2 5.2 5.1 5.1 5.0 5.0 | 5.4 5.3 5.3 5.2 5.1 5.0 | 6.3 6.0 6.0 5.9 5.9 5.8 | 6.1 6.0 6.0 5.9 5.9",
    "2.9 2.9 2.9 2.9 2.9 2.9 | 3.9 2.9 2.9 2.9 2.9 2.9 | 3.4 3.3 3.2 3.1 3.0 3.0 | 3.2 3.2 3.0 2.9 2.8 2.7 | 3.8 3.5 3.4 3.4 3.3 3.3 | 3.8 3.7 3.7 3.7 3.6 3.5 | 4.2 3.9 3.9 3.9 3.9 3.8 | 5.0 4.6 4.4 4.4 4.4 | 5.0 4.5 4.5 4.5 4.5 4.5 | 5.3 4.9 4.8 4.8 4.8 4.8 | 5.7 5.2 5.1 5.0 4.9 4.8 | 5.2 5.0 4.9 4.9 4.8 4.8 | 6.0 5.5 5.3 5.2 5.1 5.0 | 5.4 5.1 5.0 5.0 5.0 5.0 | 5.6 5.3 5.2 5.1 5.0 5.0 | 6.2 5.8 5.5 5.4 5.1 5.1 | 5.8 5.6 5.5 5.3 5.3",
    "2.9 2.9 2.9 2.9 2.9 2.9 | 3.5 1.6 1.4 1.3 1.3 1.3 | 2.2 2.2 2.2 2.1 2.1 2.1 | 4.0 3.5 3.5 3.3 3.3 3.2 | 4.8 4.6 4.6 4.5 4.5 4.5 | 5.0 4.8 4.7 4.7 4.6 4.6 | 5.3 5.2 5.0 4.9 4.6 4.4 | 4.6 4.4 4.3 4.3 4.2 | 4.9 4.8 4.8 4.8 4.8 4.7 | 5.6 5.3 5.3 5.3 5.3 5.3 | 5.5 5.3 5.3 5.3 5.3 5.3 | 5.8 5.7 5.6 5.4 5.2 5.2 | 5.6 5.5 5.3 5.2 5.2 5.2 | 6.6 6.4 6.3 6.3 6.2 6.2 | 6.4 6.2 6.1 6.1 6.0 5.9 | 6.4 6.3 6.3 6.3 6.3 6.3 | 6.5 6.3 6.3 6.3 6.3",
]

W, H = 1226, 1225
TXT = "#595959"
GRID = "#D9D9D9"

plt.rcParams["font.family"] = ["DejaVu Serif"]

fig = plt.figure(figsize=(W / 100, H / 100), dpi=100)


def parse(name, rows):
    out = []
    for i, s in enumerate(rows):
        vals = [float(v) for v in s.replace("|", " ").split()]
        if len(vals) != 100:
            raise ValueError(f"{name} series {i}: {len(vals)} values")
        out.append(vals)
    return out


def fx(x):
    return x / W


def fy(y):
    return 1 - y / H


def draw_panel(name, rows, box, plot, ymax, ystep, title, title_y, sub_y, ylab_x, year_y):
    l, t, r, b = box
    fig.add_artist(Rectangle((fx(l), fy(b)), (r - l) / W, (b - t) / H,
                             transform=fig.transFigure, fill=False, ec=GRID, lw=1))
    pl, pt, pr, pb = plot
    ax = fig.add_axes([fx(pl), fy(pb), (pr - pl) / W, (pb - pt) / H])
    for c, vals in zip(colors, parse(name, rows)):
        ax.plot(years, vals, color=c, lw=2.1, solid_joinstyle="round", solid_capstyle="butt")
    ax.set_xlim(0.5, 100.5)
    ax.set_ylim(0, ymax)
    yt = np.arange(0, ymax + 1e-9, ystep)
    ax.set_yticks(yt)
    ax.set_yticklabels([f"{v:g}" for v in yt])
    ax.yaxis.grid(True, color=GRID, lw=1)
    ax.set_axisbelow(True)
    for s in ["top", "left", "right"]:
        ax.spines[s].set_visible(False)
    ax.spines["bottom"].set_color(GRID)
    ax.spines["bottom"].set_linewidth(1.2)
    ax.set_xticks(years)
    ax.set_xticklabels(year_labels, rotation=90)
    ax.set_xticks(np.arange(0.5, 101, 1), minor=True)
    ax.tick_params(axis="x", which="major", length=0, pad=11, labelsize=14, labelcolor=TXT)
    ax.tick_params(axis="x", which="minor", length=6, width=1, color=GRID)
    ax.tick_params(axis="y", length=0, pad=15, labelsize=14, labelcolor=TXT)

    cx = (l + r) / 2
    fig.text(fx(cx), fy(title_y), title, ha="center", va="center",
             fontsize=18, fontweight="bold", color=TXT)
    fig.text(fx(cx), fy(sub_y), "Consumer Satisfaction", ha="center", va="center",
             fontsize=19, color=TXT)
    fig.text(fx(ylab_x), fy((pt + pb) / 2), "Accumulated capital", ha="center", va="center",
             rotation=90, fontsize=16, color=TXT)
    fig.text(fx((pl + pr) / 2), fy(year_y), "Year", ha="center", va="center",
             fontsize=16, color=TXT)


draw_panel("pbr4", pbr4, (8, 8, 613, 612), (134, 136, 584, 498), 5, 0.5,
           "PBR - Scenario 4", 47, 86, 58, 564)
draw_panel("patents4", patents4, (625, 8, 1226, 612), (735, 136, 1197, 498), 9, 1,
           "Patents - Scenario 4", 47, 86, 676, 564)
draw_panel("pbr5", pbr5, (5, 628, 609, 1225), (131, 757, 582, 1119), 5, 0.5,
           "PBR - Scenario 5", 668, 706, 54, 1186)
draw_panel("patents5", patents5, (628, 625, 1226, 1225), (750, 755, 1199, 1117), 10, 1,
           "Patents - Scenario 5", 666, 703, 678, 1184)

fig.savefig("out.png", dpi=100)
